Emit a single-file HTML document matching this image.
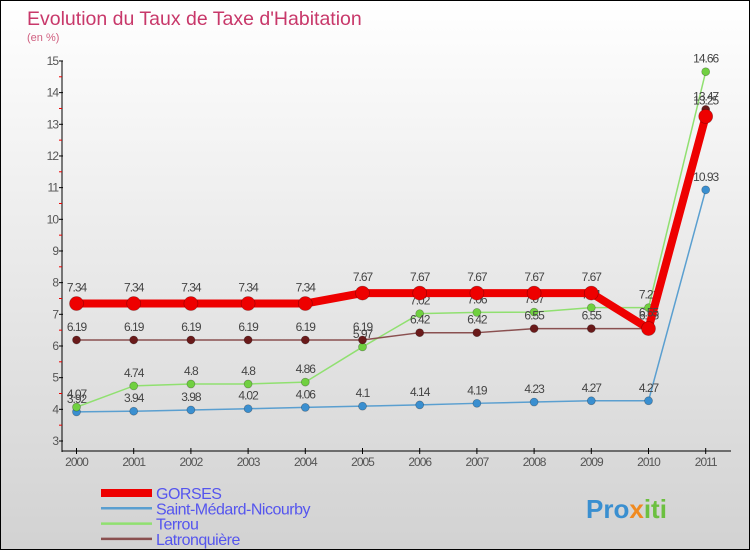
<!DOCTYPE html>
<html><head><meta charset="utf-8"><style>
body{margin:0}
#c{position:relative;width:748px;height:548px;border:1px solid #000;background:linear-gradient(#fff,#d2d2d2);font-family:"Liberation Sans",sans-serif;overflow:hidden}
</style></head><body>
<div id="c">
<svg id="s" width="748" height="548" style="position:absolute;left:0;top:0">
<text x="26" y="24" font-size="19.5" fill="#c8386a">Evolution du Taux de Taxe d'Habitation</text>
<text x="26" y="40" font-size="11" fill="#d06080">(en %)</text>
<g id="ax"></g><g id="ser"></g><g id="leg"></g>
<text x="585" y="517" font-size="26" font-weight="bold" fill="#3a8fd0">Pro<tspan fill="#f08a20">x</tspan><tspan fill="#6cc040">iti</tspan></text>
</svg>
</div>
<script>
const years=["2000","2001","2002","2003","2004","2005","2006","2007","2008","2009","2010","2011"];
const yTicks=[3,4,5,6,7,8,9,10,11,12,13,14,15];
const gorses=[7.34,7.34,7.34,7.34,7.34,7.67,7.67,7.67,7.67,7.67,6.55,13.25];
const stMedard=[3.92,3.94,3.98,4.02,4.06,4.1,4.14,4.19,4.23,4.27,4.27,10.93];
const terrou=[4.07,4.74,4.8,4.8,4.86,5.97,7.02,7.06,7.07,7.21,7.21,14.66];
const latronquiere=[6.19,6.19,6.19,6.19,6.19,6.19,6.42,6.42,6.55,6.55,6.55,13.47];
const NS="http://www.w3.org/2000/svg";
const X=i=>75.5+i*57.2;
const Y=v=>440-(v-3)*31.67;
function mk(t,a,p){const e=document.createElementNS(NS,t);for(const k in a)e.setAttribute(k,a[k]);p.appendChild(e);return e;}
const ax=document.getElementById('ax');
const yl=mk('line',{x1:61,y1:Y(15),x2:61,y2:451,stroke:'#000','stroke-width':1},ax);


const xl=mk('line',{x1:61,y1:450,x2:730,y2:450,stroke:'#000','stroke-width':1},ax);


yTicks.forEach(v=>{
  mk('line',{x1:58,x2:62,y1:Y(v),y2:Y(v),stroke:'#000'},ax);
  if(v<15) mk('line',{x1:58,x2:61,y1:Y(v+0.5),y2:Y(v+0.5),stroke:'#e00'},ax);
  const t=mk('text',{x:57,y:Y(v)+4,'font-size':12,fill:'#555','text-anchor':'end','letter-spacing':'-1'},ax);
  t.textContent=v;
  
  
});
years.forEach((y,i)=>{
  mk('line',{x1:X(i),x2:X(i),y1:447,y2:453,stroke:'#000'},ax);
  const t=mk('text',{x:X(i),y:465,'font-size':12,fill:'#555','text-anchor':'middle','letter-spacing':'-1'},ax);
  t.textContent=y;
  
  
});
const ser=document.getElementById('ser');
const series=[
 {n:'Saint-Médard-Nicourby',d:stMedard,c:'#5a9fd0',w:1.5,r:4,pc:'#3a8fd0'},
 {n:'Terrou',d:terrou,c:'#90e070',w:1.5,r:4,pc:'#70d040'},
 {n:'Latronquière',d:latronquiere,c:'#8a5050',w:1.5,r:4,pc:'#6a1a1a'},
 {n:'GORSES',d:gorses,c:'#ee0000',w:8,r:7,pc:'#ee0000'}
];
series.forEach(s=>{
  const g=mk('g',{},ser);
  
  
  mk('polyline',{points:s.d.map((v,i)=>X(i)+','+Y(v)).join(' '),fill:'none',stroke:s.c,'stroke-width':s.w,'stroke-linejoin':'round'},g);
  s.d.forEach((v,i)=>{
    const c=mk('circle',{cx:X(i),cy:Y(v),r:s.r,fill:s.pc,stroke:'rgba(0,0,0,0.3)','stroke-width':0.7},g);
    
    
    const t=mk('text',{x:X(i),y:Y(v)-(s.r+5),'font-size':12,fill:'#444','text-anchor':'middle','letter-spacing':'-1'},g);
    t.textContent=v;
    
    
  });
});
const leg=document.getElementById('leg');
const lorder=[series[3],series[0],series[1],series[2]];
lorder.forEach((s,k)=>{
  const y=492+k*15.3;
  const g=mk('g',{},leg);
  
  
  mk('line',{x1:100,x2:151,y1:y,y2:y,stroke:s.c,'stroke-width':k==0?8:2.5},g);
  const t=mk('text',{x:155,y:y+6,'font-size':16,fill:'#5555ee','letter-spacing':'-0.5'},g);
  t.textContent=s.n;
});
</script>
</body></html>
